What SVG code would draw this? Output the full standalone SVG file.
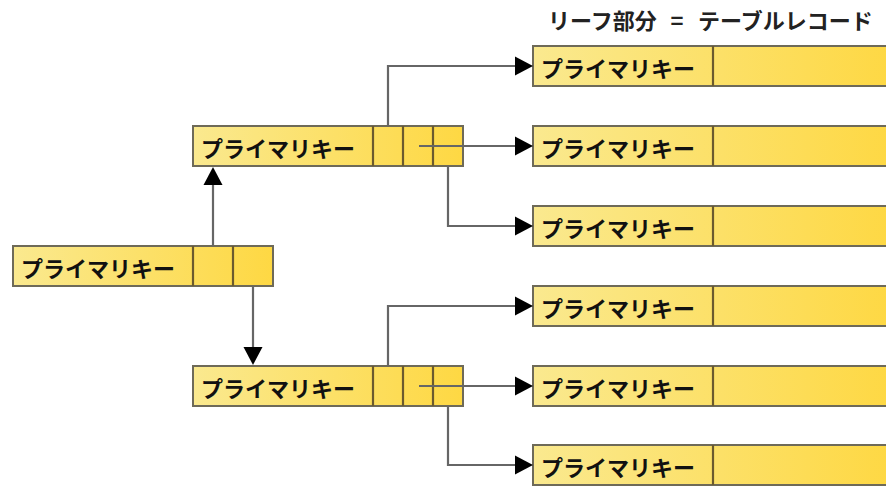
<svg xmlns="http://www.w3.org/2000/svg" width="886" height="486" viewBox="0 0 886 486">
<defs>
<linearGradient id="g" x1="0" y1="0" x2="1" y2="0">
<stop offset="0" stop-color="#fae98f"/>
<stop offset="1" stop-color="#fed843"/>
</linearGradient>
<marker id="ah" markerUnits="userSpaceOnUse" markerWidth="19" markerHeight="20" refX="0" refY="9.5" orient="auto" viewBox="0 0 19 19">
<path d="M0,0 L18,9.5 L0,19 Z" fill="#000"/>
</marker>
<style>
.box{fill:url(#g);stroke:#6e6a58;stroke-width:2}
.div{stroke:#6b5a2e;stroke-width:2.2}
.lbl{font-family:"Noto Sans CJK JP","Noto Sans",sans-serif;font-weight:bold;font-size:22px;fill:#111;dominant-baseline:central}
.ttl{font-family:"Noto Sans CJK JP","Noto Sans",sans-serif;font-weight:bold;font-size:22px;fill:#222}
.con{fill:none;stroke:#666;stroke-width:2.2}
</style>
</defs>
<rect width="886" height="486" fill="#fff"/>
<text class="ttl" y="29"><tspan x="548">リーフ部分</tspan><tspan x="677" text-anchor="middle">=</tspan><tspan x="698">テーブルレコード</tspan></text>

<g id="root">
<rect class="box" x="13" y="246" width="260" height="40"/>
<line class="div" x1="193" y1="246" x2="193" y2="286"/>
<line class="div" x1="233" y1="246" x2="233" y2="286"/>
<text class="lbl" x="21" y="267">プライマリキー</text>
</g>

<g id="inner1">
<rect class="box" x="193" y="126" width="270" height="40"/>
<line class="div" x1="373" y1="126" x2="373" y2="166"/>
<line class="div" x1="403" y1="126" x2="403" y2="166"/>
<line class="div" x1="433" y1="126" x2="433" y2="166"/>
<text class="lbl" x="201" y="147">プライマリキー</text>
</g>

<g id="inner2">
<rect class="box" x="193" y="366" width="270" height="40"/>
<line class="div" x1="373" y1="366" x2="373" y2="406"/>
<line class="div" x1="403" y1="366" x2="403" y2="406"/>
<line class="div" x1="433" y1="366" x2="433" y2="406"/>
<text class="lbl" x="201" y="387">プライマリキー</text>
</g>

<g id="leaf1"><rect class="box" x="533" y="46" width="360" height="40"/><line class="div" x1="713" y1="46" x2="713" y2="86"/><text class="lbl" x="541" y="67">プライマリキー</text></g>
<g id="leaf2"><rect class="box" x="533" y="126" width="360" height="40"/><line class="div" x1="713" y1="126" x2="713" y2="166"/><text class="lbl" x="541" y="147">プライマリキー</text></g>
<g id="leaf3"><rect class="box" x="533" y="206" width="360" height="40"/><line class="div" x1="713" y1="206" x2="713" y2="246"/><text class="lbl" x="541" y="227">プライマリキー</text></g>
<g id="leaf4"><rect class="box" x="533" y="286" width="360" height="40"/><line class="div" x1="713" y1="286" x2="713" y2="326"/><text class="lbl" x="541" y="307">プライマリキー</text></g>
<g id="leaf5"><rect class="box" x="533" y="366" width="360" height="40"/><line class="div" x1="713" y1="366" x2="713" y2="406"/><text class="lbl" x="541" y="387">プライマリキー</text></g>
<g id="leaf6"><rect class="box" x="533" y="445" width="360" height="40"/><line class="div" x1="713" y1="445" x2="713" y2="485"/><text class="lbl" x="541" y="466">プライマリキー</text></g>

<g id="connectors">
<path class="con" d="M213,246 V185" marker-end="url(#ah)"/>
<path class="con" d="M253,286 V347" marker-end="url(#ah)"/>
<path class="con" d="M388,126 V66 H515" marker-end="url(#ah)"/>
<path class="con" d="M419,146 H515" marker-end="url(#ah)"/>
<path class="con" d="M448,166 V226 H515" marker-end="url(#ah)"/>
<path class="con" d="M388,366 V306 H515" marker-end="url(#ah)"/>
<path class="con" d="M419,386 H515" marker-end="url(#ah)"/>
<path class="con" d="M448,406 V465 H515" marker-end="url(#ah)"/>
</g>
</svg>
